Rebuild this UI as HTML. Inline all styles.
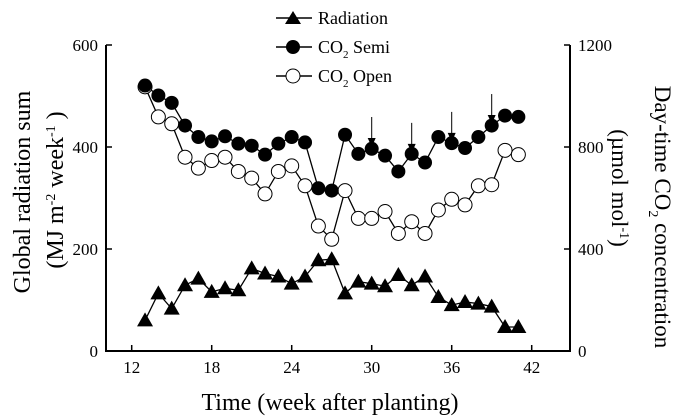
<!DOCTYPE html>
<html><head><meta charset="utf-8"><style>
html,body{margin:0;padding:0;background:#fff;}
svg{display:block;font-family:"Liberation Serif",serif;}
</style></head><body>
<svg id="chart" width="687" height="420" viewBox="0 0 687 420">
<g id="axes"></g>
<g id="marks"></g>
<g font-size="18">
 <line x1="276" y1="18" x2="312" y2="18" stroke="#000" stroke-width="1.5"/>
 <polygon points="285,24 301,24 293,11" fill="#000"/>
 <text x="318" y="24">Radiation</text>
 <line x1="276" y1="47" x2="312" y2="47" stroke="#000" stroke-width="1.5"/>
 <circle cx="293" cy="47" r="7" fill="#000"/>
 <text x="318" y="53">CO<tspan font-size="11" dy="5">2</tspan><tspan dy="-5"> Semi</tspan></text>
 <line x1="276" y1="76" x2="312" y2="76" stroke="#000" stroke-width="1.5"/>
 <circle cx="293" cy="76" r="7" fill="#fff" stroke="#000" stroke-width="1"/>
 <text x="318" y="82">CO<tspan font-size="11" dy="5">2</tspan><tspan dy="-5"> Open</tspan></text>
</g>
<text x="330" y="410" text-anchor="middle" font-size="24">Time (week after planting)</text>
<text transform="translate(30,192) rotate(-90)" text-anchor="middle" font-size="24">Global radiation sum</text>
<text transform="translate(63,190) rotate(-90)" text-anchor="middle" font-size="24">(MJ m<tspan font-size="14" dy="-8">-2</tspan><tspan dy="8"> week</tspan><tspan font-size="14" dy="-8">-1</tspan><tspan dy="8"> )</tspan></text>
<text transform="translate(655,217) rotate(90)" text-anchor="middle" font-size="23">Day-time CO<tspan font-size="14" dy="6">2</tspan><tspan dy="-6"> concentration</tspan></text>
<text transform="translate(612,188) rotate(90)" text-anchor="middle" font-size="23">(µmol mol<tspan font-size="14" dy="-8">-1</tspan><tspan dy="8">)</tspan></text>
</svg>
<script>
const weeks=[13,14,15,16,17,18,19,20,21,22,23,24,25,26,27,28,29,30,31,32,33,34,35,36,37,38,39,40,41];
const radiation=[60,113,83,129,142,116,123,119,162,152,146,132,146,178,180,113,136,132,127,149,129,146,106,90,96,93,87,47,47];
const co2Semi=[1041,1002,973,884,839,822,842,813,805,770,813,839,818,638,629,848,773,793,766,704,773,739,839,815,796,839,884,923,918];
const co2Open=[1036,918,891,760,717,747,760,704,678,616,704,726,648,490,438,629,520,520,547,461,507,461,553,595,573,648,652,787,770];
const arrowWeeks=[30,33,36,39];
const arrowTargets=[800,777,820,890];
const xTicks=[12,18,24,30,36,42];
const yLeftTicks=[0,200,400,600];
const yRightTicks=[0,400,800,1200];

const L=106,R=570,T=45,B=351;
const X=w=>131.7+(w-12)*(400/30);
const YL=v=>B-(v/600)*(B-T);
const YR=v=>B-(v/1200)*(B-T);
const NS='http://www.w3.org/2000/svg';
function mk(tag,attrs,parent){const e=document.createElementNS(NS,tag);for(const k in attrs)e.setAttribute(k,attrs[k]);parent.appendChild(e);return e;}
const ax=document.getElementById('axes'),mg=document.getElementById('marks');

let e=mk('polyline',{points:`${L},${T} ${L},${B} ${R},${B} ${R},${T}`,fill:'none',stroke:'#000','stroke-width':2},ax);


xTicks.forEach(t=>{
 const x=X(t);
 let l=mk('line',{x1:x,y1:B,x2:x,y2:B-6,stroke:'#000','stroke-width':1.5},ax);
 
 
 let tx=mk('text',{x:x,y:B+22,'text-anchor':'middle','font-size':17},ax);tx.textContent=t;
 
 
});
yLeftTicks.forEach(t=>{
 const y=YL(t);
 let l=mk('line',{x1:L,y1:y,x2:L+6,y2:y,stroke:'#000','stroke-width':1.5},ax);
 
 
 let tx=mk('text',{x:L-8,y:y+6,'text-anchor':'end','font-size':17},ax);tx.textContent=t;
 
 
});
yRightTicks.forEach(t=>{
 const y=YR(t);
 let l=mk('line',{x1:R,y1:y,x2:R-6,y2:y,stroke:'#000','stroke-width':1.5},ax);
 
 
 let tx=mk('text',{x:R+8,y:y+6,'text-anchor':'start','font-size':17},ax);tx.textContent=t;
 
 
});

function line(vals,Y,name){
 let p=mk('polyline',{points:weeks.map((w,i)=>X(w)+','+Y(vals[i])).join(' '),fill:'none',stroke:'#000','stroke-width':1.3},mg);
 
 
}
line(radiation,YL,'radiation-line');
line(co2Open,YR,'co2-open-line');
line(co2Semi,YR,'co2-semi-line');
weeks.forEach((w,i)=>{
 const x=X(w);
 let c=mk('circle',{cx:x,cy:YR(co2Open[i]),r:7,fill:'#fff',stroke:'#000','stroke-width':1},mg);
 
 
});
weeks.forEach((w,i)=>{
 const x=X(w);
 let c=mk('circle',{cx:x,cy:YR(co2Semi[i]),r:7,fill:'#000'},mg);
 
 
 const y=YL(radiation[i]);
 let t=mk('polygon',{points:`${x-8},${y+6} ${x+8},${y+6} ${x},${y-8}`,fill:'#000'},mg);
 
 
});
arrowWeeks.forEach((w,i)=>{
 const x=X(w),yb=YR(arrowTargets[i]);
 let l=mk('line',{x1:x,y1:yb-30,x2:x,y2:yb,stroke:'#000','stroke-width':1},mg);
 
 
 let h=mk('polygon',{points:`${x-4},${yb-9} ${x+4},${yb-9} ${x},${yb}`,fill:'#000'},mg);
 
 
});
</script>
</body></html>
